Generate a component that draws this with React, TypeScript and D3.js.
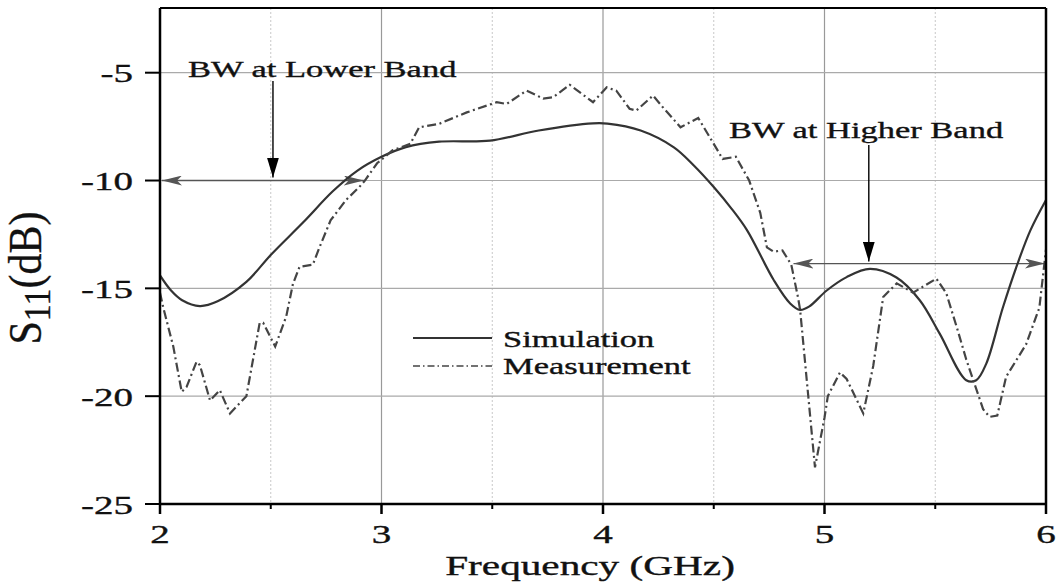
import React from "react";
import * as d3 from "d3";

const xTicks = [2, 3, 4, 5, 6];
const xMinor = [2.5, 3.5, 4.5, 5.5];
const yTicks = [-5, -10, -15, -20, -25];

const simFreq = [2.0, 2.05, 2.1, 2.18, 2.26, 2.39, 2.5, 2.65, 2.78, 2.89, 3.0, 3.11, 3.26, 3.49, 3.71, 3.955, 4.02, 4.17, 4.32, 4.41, 4.5, 4.58, 4.65, 4.77, 4.845, 4.89, 4.93, 5.01, 5.1, 5.205, 5.325, 5.43, 5.52, 5.64, 5.685, 5.73, 5.805, 5.87, 5.93, 6.0];
const simVal = [-14.4, -15.1, -15.55, -15.82, -15.6, -14.7, -13.45, -11.9, -10.5, -9.55, -8.9, -8.45, -8.2, -8.15, -7.68, -7.35, -7.36, -7.68, -8.46, -9.3, -10.3, -11.3, -12.3, -14.6, -15.7, -16.0, -15.85, -15.1, -14.48, -14.1, -14.5, -15.55, -17.1, -19.26, -19.26, -18.5, -15.9, -13.9, -12.3, -10.9];

const measFreq = [2.0, 2.015, 2.06, 2.098, 2.12, 2.165, 2.18, 2.226, 2.27, 2.316, 2.39, 2.45, 2.466, 2.52, 2.57, 2.6, 2.63, 2.69, 2.72, 2.77, 2.84, 2.9, 2.925, 2.98, 3.05, 3.13, 3.17, 3.26, 3.385, 3.52, 3.565, 3.655, 3.73, 3.775, 3.85, 3.955, 4.017, 4.06, 4.12, 4.15, 4.226, 4.27, 4.35, 4.43, 4.5, 4.54, 4.6, 4.66, 4.71, 4.74, 4.77, 4.81, 4.85, 4.88, 4.89, 4.957, 5.0, 5.015, 5.07, 5.1, 5.175, 5.22, 5.265, 5.326, 5.4, 5.505, 5.55, 5.6, 5.64, 5.716, 5.745, 5.78, 5.82, 5.91, 5.97, 6.0];
const measVal = [-15.2, -15.9, -17.7, -19.8, -19.57, -18.4, -18.56, -20.2, -19.72, -20.8, -20.0, -16.6, -16.6, -17.7, -16.3, -14.8, -14.0, -13.9, -13.1, -11.85, -10.9, -10.3, -10.0, -9.2, -8.6, -8.3, -7.53, -7.37, -6.84, -6.37, -6.45, -5.83, -6.2, -6.14, -5.56, -6.37, -5.68, -5.83, -6.67, -6.76, -6.06, -6.6, -7.53, -7.1, -8.3, -9.0, -8.9, -10.0, -11.5, -13.1, -13.3, -13.24, -13.9, -15.4, -16.0, -23.3, -21.0, -20.0, -18.9, -19.2, -20.8, -18.6, -15.4, -14.77, -15.2, -14.55, -15.23, -16.9, -18.3, -20.6, -20.96, -20.9, -19.1, -17.6, -15.9, -13.2];

const seriesNames = ["Simulation", "Measurement"];
const annotLower = "BW at Lower Band";
const annotHigher = "BW at Higher Band";
const lowerBand = [2.0, 2.92];
const lowerLevel = -10;
const lowerMarker = 2.51;
const higherBand = [4.86, 6.0];
const higherLevel = -13.85;
const higherMarker = 5.2;

const SX = 1.5;
const FONT = "'Liberation Serif', 'Times New Roman', serif";

export default function App() {
  const W = 1058, H = 582;
  const L = 160, R = 1046, T = 8, B = 504;
  const x = d3.scaleLinear().domain([2, 6]).range([L, R]);
  const y = d3.scaleLinear().domain([-25, -2]).range([B, T]);

  const simLine = d3
    .line<number>()
    .x((_, i) => x(simFreq[i]))
    .y((d) => y(d))
    .curve(d3.curveCatmullRom.alpha(0.5));
  const measLine = d3
    .line<number>()
    .x((_, i) => x(measFreq[i]))
    .y((d) => y(d))
    .curve(d3.curveLinear);

  const txt = (
    s: React.ReactNode,
    px: number,
    py: number,
    size: number,
    anchor: string = "start",
    key?: string
  ) => (
    <text
      key={key}
      transform={`translate(${px},${py}) scale(${SX},1)`}
      fontFamily={FONT}
      fontSize={size}
      textAnchor={anchor}
      fill="#111"
      stroke="#111"
      strokeWidth={0.35}
    >
      {s}
    </text>
  );

  const arrowColor = "#555";

  return (
    <svg
      width={W}
      height={H}
      style={{ position: "absolute", left: 0, top: 0, background: "#fff" }}
    >
      <defs>
        <marker id="ahGray" viewBox="0 0 20 10" refX="20" refY="5" markerWidth="20" markerHeight="10" markerUnits="userSpaceOnUse" orient="auto-start-reverse">
          <path d="M0,0 L20,5 L0,10 L5,5 Z" fill={arrowColor} />
        </marker>
        <marker id="ahBlack" viewBox="0 0 12 20" refX="6" refY="20" markerWidth="12" markerHeight="20" markerUnits="userSpaceOnUse" orient="0">
          <path d="M0,0 L12,0 L6,20 Z" fill="#000" />
        </marker>
        <clipPath id="plotClip">
          <rect x={L} y={T} width={R - L} height={B - T} />
        </clipPath>
      </defs>

      {/* minor grid */}
      {xMinor.map((v) => (
        <line key={"mg" + v} x1={x(v)} x2={x(v)} y1={T} y2={B} stroke="#c8c8c8" strokeWidth={1} strokeDasharray="2,2" />
      ))}
      {/* major grid */}
      {xTicks.slice(1, -1).map((v) => (
        <line key={"gx" + v} x1={x(v)} x2={x(v)} y1={T} y2={B} stroke="#999" strokeWidth={1.2} />
      ))}
      {yTicks.slice(0, -1).map((v) => (
        <line key={"gy" + v} x1={L} x2={R} y1={y(v)} y2={y(v)} stroke="#aaa" strokeWidth={1.2} />
      ))}

      {/* annotations: horizontal bandwidth arrows */}
      <line x1={x(lowerBand[0]) + 2} x2={x(lowerBand[1])} y1={y(lowerLevel)} y2={y(lowerLevel)} stroke={arrowColor} strokeWidth={1.3} markerStart="url(#ahGray)" markerEnd="url(#ahGray)" />
      <line x1={x(higherBand[0])} x2={x(higherBand[1]) - 1} y1={y(higherLevel)} y2={y(higherLevel)} stroke={arrowColor} strokeWidth={1.3} markerStart="url(#ahGray)" markerEnd="url(#ahGray)" />

      {/* curves */}
      <g clipPath="url(#plotClip)">
        <path d={simLine(simVal) || ""} fill="none" stroke="#333" strokeWidth={2.2} />
        <path d={measLine(measVal) || ""} fill="none" stroke="#444" strokeWidth={2.2} strokeDasharray="9,3.5,2,3.5" />
      </g>

      {/* vertical marker arrows */}
      <line x1={x(lowerMarker)} x2={x(lowerMarker)} y1={81} y2={y(lowerLevel) - 3} stroke="#000" strokeWidth={1.4} markerEnd="url(#ahBlack)" />
      <line x1={x(higherMarker)} x2={x(higherMarker)} y1={145} y2={y(higherLevel) - 2} stroke="#000" strokeWidth={1.4} markerEnd="url(#ahBlack)" />

      {txt(annotLower, 188, 77, 23)}
      {txt(annotHigher, 729, 138, 23)}

      {/* legend */}
      <line x1={413} x2={492} y1={338} y2={338} stroke="#333" strokeWidth={2} />
      <line x1={413} x2={492} y1={366} y2={366} stroke="#444" strokeWidth={1.6} strokeDasharray="7,3,1.5,3" />
      {txt(seriesNames[0], 503, 347, 23)}
      {txt(seriesNames[1], 503, 374, 23)}

      {/* frame */}
      <line x1={L} x2={R} y1={T} y2={T} stroke="#000" strokeWidth={2} />
      <line x1={R} x2={R} y1={T} y2={B} stroke="#000" strokeWidth={2.5} />
      <line x1={L} x2={L} y1={T} y2={B + 1} stroke="#000" strokeWidth={2.5} />
      <line x1={L - 1} x2={R + 1} y1={B} y2={B} stroke="#000" strokeWidth={2.5} />

      {/* y ticks */}
      {yTicks.map((v) => (
        <g key={"yt" + v}>
          <line x1={L - 15} x2={L} y1={y(v)} y2={y(v)} stroke="#000" strokeWidth={2} />
          {txt(String(v), 133, y(v) + 9.5, 26, "end")}
        </g>
      ))}
      {/* x ticks */}
      {xTicks.map((v) => (
        <g key={"xt" + v}>
          <line x1={x(v)} x2={x(v)} y1={B} y2={B + 10} stroke="#000" strokeWidth={2.5} />
          {txt(String(v), x(v), 543, 26, "middle")}
        </g>
      ))}
      {xMinor.map((v) => (
        <line key={"xm" + v} x1={x(v)} x2={x(v)} y1={B} y2={B + 5} stroke="#000" strokeWidth={2} />
      ))}

      {/* axis titles */}
      {txt("Frequency (GHz)", (447 + 733) / 2, 575, 27.5, "middle")}
      <text
        transform={`translate(41,278) scale(1.1,1) rotate(-90)`}
        fontFamily={FONT}
        fontSize={42}
        textAnchor="middle"
        fill="#111"
        stroke="#111"
        strokeWidth={0.3}
      >
        S
        <tspan fontSize={34} dy={8}>11</tspan>
        <tspan dy={-8}>(dB)</tspan>
      </text>
    </svg>
  );
}
